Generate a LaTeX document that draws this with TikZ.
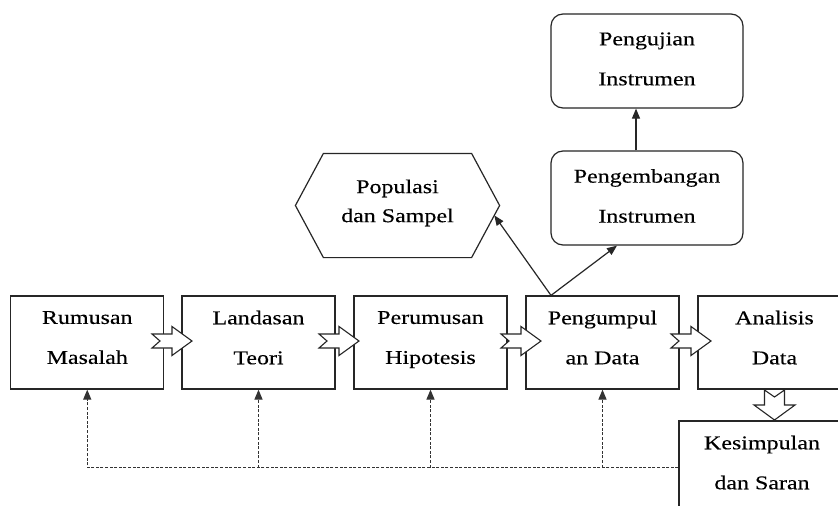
\documentclass[tikz,border=0pt]{standalone}
\usepackage{fontspec}
\setmainfont{Liberation Serif}[FakeStretch=1.23,FakeBold=0.25]
\usetikzlibrary{calc,arrows.meta}
\newcommand\dep[1]{\rule[-#1]{0pt}{0pt}}
\tikzset{
  ln/.style={draw=black!85},
  box/.style={ln, rectangle, minimum width=153pt, minimum height=93pt, inner sep=0pt, align=center, font=\fontsize{19.5}{40}\selectfont},
  rbox/.style={box, rounded corners=12pt, minimum width=192pt, minimum height=94pt},
  arr/.style={ln, -{Triangle[length=10pt,width=8pt]}},
  fb/.style={draw=black!80, line width=1.2pt, dash pattern=on 3pt off 1.6pt, -{Triangle[length=10pt,width=8pt]}},
  blk/.style={ln, fill=white, line width=1.1pt, line join=miter},
  rblk/.pic={\draw[blk] (-40,-7) -- (-32,0) -- (-40,7) -- (-20,7) -- (-20,14.5) -- (0,0) -- (-20,-14.5) -- (-20,-7) -- cycle;},
  dblk/.pic={\draw[blk] (-10,-30) -- (0,-23) -- (10,-30) -- (10,-15) -- (20.5,-15) -- (0,0) -- (-20.5,-15) -- (-10,-15) -- cycle;}
}
\begin{document}
\begin{tikzpicture}[x=1pt,y=-1pt,line width=1.2pt]
\useasboundingbox (0,0) rectangle (838,506);
\clip (0,0) rectangle (838,506);
\fill[white] (0,0) rectangle (838,506);
% bottom row
\node[box] (b1) at (87.25,342.5) {Rumusan\\Masalah\dep{10pt}};
\node[box] (b2) at (258.5,342.5) {Landasan\\Teori\dep{10pt}};
\node[box] (b3) at (430.5,342.5) {Perumusan\\Hipotesis\dep{10pt}};
\node[box] (b4) at (602.5,342.5) {Pengumpul\\an Data\dep{10pt}};
\node[box] (b5) at (774.5,342.5) {Analisis\\Data\dep{10pt}};
\node[box, minimum width=166pt] (kes) at (762,467.5) {Kesimpulan\\dan Saran\dep{10pt}};
% top
\node[rbox] (dev) at (647,198) {Pengembangan\\Instrumen\dep{4.3pt}};
\node[rbox] (uji) at (647,61) {Pengujian\\Instrumen\dep{4.3pt}};
\node[align=center, inner sep=0pt, minimum width=203pt, minimum height=103pt, font=\fontsize{19.5}{29}\selectfont] (pop) at (397.5,205.5) {Populasi\\dan Sampel\dep{9.3pt}};
\draw[ln] (pop.west) -- ([xshift=28pt]pop.north west) -- ([xshift=-28pt]pop.north east) -- (pop.east) -- ([xshift=-28pt]pop.south east) -- ([xshift=28pt]pop.south west) -- cycle;
% block arrows
\pic at (192,341) {rblk};
\pic at (359,341) {rblk};
\pic at (541,341) {rblk};
\pic at (711,341) {rblk};
\pic at (774.5,420) {dblk};
% connectors
\coordinate (src) at ([xshift=-51.5pt]b4.north);
\coordinate (popin) at ($(pop.east)!0.19!([xshift=-28pt]pop.south east)$);
\draw[arr] (src) -- (popin);
\draw[arr] (src) -- ([xshift=-30pt]dev.south);
\draw[arr] ([xshift=-11pt]dev.north) -- ([xshift=-11pt]uji.south);
% feedback
\draw[fb] (kes.west) -| (b1.south);
\foreach \n in {b2,b3,b4} \draw[fb] (\n.south |- kes.west) -- (\n.south);
\end{tikzpicture}
\end{document}
